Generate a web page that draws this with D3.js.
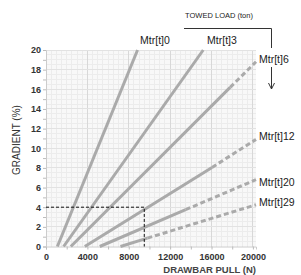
<!DOCTYPE html>
<html>
<head>
<meta charset="utf-8">
<script src="https://cdn.jsdelivr.net/npm/d3@7"></script>
<style>
  body { margin: 0; background: #fff; }
  svg { display: block; font-family: Arial, "Liberation Sans", sans-serif; }
</style>
</head>
<body>
<div id="chart"></div>
<script>
// Towed load lines (pull in N, gradient in %)
var loads      = ["Mtr[t]0", "Mtr[t]3", "Mtr[t]6", "Mtr[t]12", "Mtr[t]20", "Mtr[t]29"];
var startPull  = [1100, 1700, 2400, 3750, 5200, 7200];
var solidPull  = [8850, 15200, 17800, 16050, 13500, 9800];
var solidGrade = [20, 20, 16.2, 8.05, 3.75, 0.85];
var endPull    = [8850, 15200, 20300, 20300, 20300, 20300];
var endGrade   = [20, 20, 18.8, 10.9, 6.8, 4.25];

// Worked example (dashed black guide)
var examplePull = 9500;
var exampleGrade = 4;

var xTicks = [0, 4000, 8000, 12000, 16000, 20000];
var yTicks = [0, 2, 4, 6, 8, 10, 12, 14, 16, 18, 20];

var width = 301, height = 275;
var plotL = 46, plotR = 256, plotT = 50, plotB = 246.5;

var svg = d3.select("#chart").append("svg")
  .attr("width", width)
  .attr("height", height);

var x = d3.scaleLinear().domain([0, 20300]).range([plotL, plotR]);
var y = d3.scaleLinear().domain([0, 20]).range([plotB, plotT]);

// plot background
svg.append("rect")
  .attr("x", plotL).attr("y", plotT)
  .attr("width", plotR - plotL).attr("height", plotB - plotT)
  .attr("fill", "#f8f8f8");

// minor grid
var grid = svg.append("g").attr("shape-rendering", "crispEdges");
grid.append("g").selectAll("line")
  .data(d3.range(500, 20300, 500))
  .join("line")
  .attr("x1", d => x(d)).attr("x2", d => x(d))
  .attr("y1", plotT).attr("y2", plotB)
  .attr("stroke", "#ececec");
grid.append("g").selectAll("line")
  .data(d3.range(0.5, 20, 0.5))
  .join("line")
  .attr("x1", plotL).attr("x2", plotR)
  .attr("y1", d => y(d)).attr("y2", d => y(d))
  .attr("stroke", "#ececec");

// major grid
grid.append("g").selectAll("line")
  .data(xTicks.slice(1))
  .join("line")
  .attr("x1", d => x(d)).attr("x2", d => x(d))
  .attr("y1", plotT).attr("y2", plotB)
  .attr("stroke", "#d8d8d8");
grid.append("g").selectAll("line")
  .data(yTicks.slice(1))
  .join("line")
  .attr("x1", plotL).attr("x2", plotR)
  .attr("y1", d => y(d)).attr("y2", d => y(d))
  .attr("stroke", "#e2e2e2");

// axes
var xAxis = svg.append("g")
  .attr("transform", "translate(0," + plotB + ")")
  .call(d3.axisBottom(x).tickValues(d3.range(0, 20300, 2000)).tickSize(3).tickFormat(d => xTicks.includes(d) ? d : ""));
var yAxis = svg.append("g")
  .attr("transform", "translate(" + plotL + ",0)")
  .call(d3.axisLeft(y).tickValues(d3.range(0, 21, 1)).tickSize(3).tickFormat(d => yTicks.includes(d) ? d : ""));
[xAxis, yAxis].forEach(a => {
  a.select(".domain").attr("stroke", "#ccc");
  a.selectAll(".tick line").attr("stroke", "#bbb");
  a.selectAll("text")
    .attr("fill", "#333")
    .attr("font-size", "9px")
    .attr("font-weight", "bold")
    .attr("font-family", "Arial, 'Liberation Sans', sans-serif");
});
xAxis.selectAll("text").attr("dy", "0.85em");
yAxis.selectAll("text").attr("x", -5);

// load lines: solid part then dashed continuation
var line = d3.line().x(d => x(d[0])).y(d => y(d[1]));
var lines = svg.append("g").attr("fill", "none").attr("stroke", "#aaa").attr("stroke-width", 3);
loads.forEach((name, i) => {
  lines.append("path")
    .attr("d", line([[startPull[i], 0], [solidPull[i], solidGrade[i]]]));
  if (endPull[i] > solidPull[i]) {
    lines.append("path")
      .attr("stroke-dasharray", "5,3")
      .attr("d", line([[solidPull[i], solidGrade[i]], [endPull[i], endGrade[i]]]));
  }
});

// worked example guide
svg.append("path")
  .attr("fill", "none")
  .attr("stroke", "#111")
  .attr("stroke-width", 1)
  .attr("stroke-dasharray", "3,2")
  .attr("d", line([[0, exampleGrade], [examplePull, exampleGrade], [examplePull, 0]]));

// line labels: the two steep ones sit on top, the rest on the right
var labelPos = [
  { x: 155, y: 44, anchor: "middle" },
  { x: 222, y: 44, anchor: "middle" },
  { x: 259, y: 63, anchor: "start" },
  { x: 259, y: 140, anchor: "start" },
  { x: 259, y: 186, anchor: "start" },
  { x: 259, y: 206, anchor: "start" }
];
svg.append("g").selectAll("text")
  .data(loads)
  .join("text")
  .attr("x", (d, i) => labelPos[i].x)
  .attr("y", (d, i) => labelPos[i].y)
  .attr("text-anchor", (d, i) => labelPos[i].anchor)
  .attr("font-size", "10.5px")
  .attr("fill", "#222")
  .text(d => d);

// towed load bracket + arrow
svg.append("text")
  .attr("x", 219).attr("y", 18)
  .attr("text-anchor", "middle")
  .attr("font-size", "7.5px")
  .attr("fill", "#222")
  .text("TOWED LOAD (ton)");
svg.append("path")
  .attr("fill", "none").attr("stroke", "#333").attr("stroke-width", 1)
  .attr("d", "M184,28.5 H271.5 V48");
svg.append("path")
  .attr("fill", "none").attr("stroke", "#333").attr("stroke-width", 1)
  .attr("d", "M271.5,67 V89 M268.5,83 L271.5,89 L274.5,83");

// axis titles
svg.append("text")
  .attr("x", 256).attr("y", 273)
  .attr("text-anchor", "end")
  .attr("font-size", "9.5px")
  .attr("font-weight", "bold")
  .attr("fill", "#444")
  .text("DRAWBAR PULL (N)");
svg.append("text")
  .attr("transform", "translate(20,140) rotate(-90)")
  .attr("text-anchor", "middle")
  .attr("font-size", "10px")
  .attr("fill", "#333")
  .text("GRADIENT (%)");
</script>
</body>
</html>
